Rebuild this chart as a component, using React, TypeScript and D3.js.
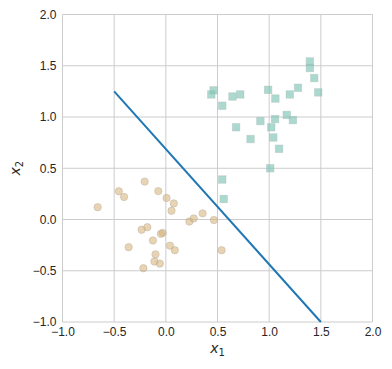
import { useEffect, useRef } from 'react';
import * as d3 from 'd3';

// class 0 (circles)
const circleX = [-0.66, -0.455, -0.404, -0.205, -0.073, 0.007, 0.077, 0.055, -0.179, -0.234, -0.03, -0.048, -0.125, -0.36, 0.04, 0.087, -0.1, -0.11, -0.058, -0.217, 0.228, 0.27, 0.356, 0.465, 0.54];
const circleY = [0.12, 0.275, 0.22, 0.37, 0.277, 0.21, 0.157, 0.085, -0.075, -0.1, -0.13, -0.14, -0.205, -0.27, -0.255, -0.3, -0.34, -0.41, -0.43, -0.475, -0.02, 0.01, 0.06, -0.005, -0.3];

// class 1 (squares)
const squareX = [1.394, 1.394, 1.436, 1.475, 0.462, 0.44, 0.546, 0.645, 0.72, 0.99, 1.06, 1.2, 1.279, 0.68, 0.915, 1.057, 1.02, 1.17, 1.23, 0.82, 1.04, 1.096, 1.01, 0.546, 0.56];
const squareY = [1.542, 1.478, 1.38, 1.24, 1.26, 1.22, 1.11, 1.2, 1.22, 1.265, 1.18, 1.22, 1.285, 0.9, 0.96, 0.98, 0.9, 1.02, 0.97, 0.785, 0.8, 0.69, 0.5, 0.39, 0.2];

// decision boundary
const lineX = [-0.5, 1.5];
const lineY = [1.25, -1.0];

const ticks = [-1.0, -0.5, 0.0, 0.5, 1.0, 1.5, 2.0];

const App = () => {
    const ref = useRef(null);
    const width = 392,
        height = 369;

    useEffect(() => {
        const svg = d3.select(ref.current);
        svg.selectAll('*').remove();

        const x = d3.scaleLinear().domain([-1, 2]).range([62.5, 372.5]);
        const y = d3.scaleLinear().domain([-1, 2]).range([322, 14.5]);
        const font = 'Liberation Sans, Arial, sans-serif';
        const grid = '#cccccc';

        // grid
        const g = svg.append('g');
        g.selectAll('line.vx')
            .data(ticks)
            .enter()
            .append('line')
            .attr('x1', (d) => x(d))
            .attr('x2', (d) => x(d))
            .attr('y1', y(-1))
            .attr('y2', y(2))
            .attr('stroke', grid)
            .attr('stroke-width', 1);
        g.selectAll('line.hy')
            .data(ticks)
            .enter()
            .append('line')
            .attr('y1', (d) => y(d))
            .attr('y2', (d) => y(d))
            .attr('x1', x(-1))
            .attr('x2', x(2))
            .attr('stroke', grid)
            .attr('stroke-width', 1);

        // tick labels
        const fmt = d3.format('.1f');
        const xAxis = svg
            .append('g')
            .attr('transform', `translate(0,${y(-1)})`)
            .call(d3.axisBottom(x).tickValues(ticks).tickFormat(fmt).tickSize(0).tickPadding(5));
        const yAxis = svg
            .append('g')
            .attr('transform', `translate(${x(-1)},0)`)
            .call(d3.axisLeft(y).tickValues(ticks).tickFormat(fmt).tickSize(0).tickPadding(6));
        [xAxis, yAxis].forEach((a) => {
            a.select('.domain').remove();
            a.selectAll('text').attr('font-family', font).attr('font-size', 12).attr('fill', '#262626');
        });

        // points
        const circles = circleX.map((v, i) => ({ x: v, y: circleY[i] }));
        const squares = squareX.map((v, i) => ({ x: v, y: squareY[i] }));

        svg.append('g')
            .selectAll('circle')
            .data(circles)
            .enter()
            .append('circle')
            .attr('cx', (d) => x(d.x))
            .attr('cy', (d) => y(d.y))
            .attr('r', 3.7)
            .attr('fill', '#d6b074')
            .attr('fill-opacity', 0.55)
            .attr('stroke', '#b0a89c')
            .attr('stroke-opacity', 0.5)
            .attr('stroke-width', 0.8);

        const s = 7.5;
        svg.append('g')
            .selectAll('rect')
            .data(squares)
            .enter()
            .append('rect')
            .attr('x', (d) => x(d.x) - s / 2)
            .attr('y', (d) => y(d.y) - s / 2)
            .attr('width', s)
            .attr('height', s)
            .attr('fill', '#80c4b6')
            .attr('fill-opacity', 0.65)
            .attr('stroke', '#a8bab6')
            .attr('stroke-opacity', 0.45)
            .attr('stroke-width', 0.8);

        // boundary line
        svg.append('path')
            .datum(lineX.map((v, i) => [v, lineY[i]]))
            .attr('d', d3.line().x((d) => x(d[0])).y((d) => y(d[1])))
            .attr('fill', 'none')
            .attr('stroke', '#1f77b4')
            .attr('stroke-width', 2);

        // axis titles
        const xt = svg
            .append('text')
            .attr('x', (x(-1) + x(2)) / 2)
            .attr('y', 353)
            .attr('text-anchor', 'middle')
            .attr('font-family', 'DejaVu Sans, sans-serif')
            .attr('font-size', 14)
            .attr('fill', '#262626');
        xt.append('tspan').attr('font-style', 'italic').text('x');
        xt.append('tspan').attr('font-size', 10).attr('dy', 3).text('1');

        const yt = svg
            .append('text')
            .attr('transform', `translate(20,${(y(-1) + y(2)) / 2}) rotate(-90)`)
            .attr('text-anchor', 'middle')
            .attr('font-family', 'DejaVu Sans, sans-serif')
            .attr('font-size', 14)
            .attr('fill', '#262626');
        yt.append('tspan').attr('font-style', 'italic').text('x');
        yt.append('tspan').attr('font-size', 10).attr('dy', 3).text('2');
    }, []);

    return (
        <svg
            ref={ref}
            width={width}
            height={height}
            style={{ position: 'absolute', left: 0, top: 0, background: '#fff' }}
        ></svg>
    );
};

export default App;
